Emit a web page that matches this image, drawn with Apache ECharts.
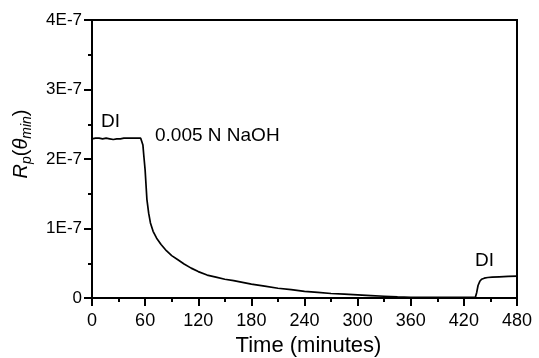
<!DOCTYPE html>
<html>
<head>
<meta charset="utf-8">
<script src="https://cdn.jsdelivr.net/npm/echarts@6/dist/echarts.min.js"></script>
<style>
  html, body {margin: 0; padding: 0; background: #fff;}
  #main {width: 539px; height: 358px;}
</style>
</head>
<body>
<div id="main"></div>
<script>
  // time in minutes, Rp in units of 1E-7
  const time = [0, 4, 8, 12, 16, 20, 24, 28, 32, 36, 40, 44, 48, 52, 55, 56.5, 57.5, 58.5, 60, 62, 64, 66, 69, 73, 78, 84, 90, 97, 104, 112, 120, 130, 140, 150, 160, 170, 180, 195, 210, 225, 240, 255, 270, 285, 300, 315, 330, 345, 360, 375, 390, 405, 420, 433, 434.5, 436, 438, 440, 443, 447, 452, 460, 470, 480];
  const rp = [2.29, 2.30, 2.30, 2.29, 2.30, 2.29, 2.28, 2.29, 2.29, 2.30, 2.30, 2.30, 2.30, 2.30, 2.30, 2.29, 2.2, 2.05, 1.84, 1.42, 1.22, 1.08, 0.96, 0.86, 0.77, 0.68, 0.61, 0.55, 0.49, 0.43, 0.38, 0.33, 0.30, 0.27, 0.25, 0.225, 0.20, 0.17, 0.14, 0.12, 0.095, 0.08, 0.065, 0.055, 0.045, 0.035, 0.025, 0.015, 0.01, 0.008, 0.01, 0.008, 0.01, 0.012, 0.08, 0.18, 0.24, 0.27, 0.285, 0.295, 0.30, 0.305, 0.31, 0.315];
  const xTicks = [0, 60, 120, 180, 240, 300, 360, 420, 480];
  const yTicks = [0, 1, 2, 3, 4];
  const notes = [
    {text: 'DI', x: 101, y: 121.5},
    {text: '0.005 N NaOH', x: 155, y: 135.5},
    {text: 'DI', x: 475, y: 260.5}
  ];

  const font = '"Liberation Sans", Arial, sans-serif';
  const chart = echarts.init(document.getElementById('main'));
  chart.setOption({
    animation: false,
    backgroundColor: '#fff',
    grid: {
      left: 92, right: 22, top: 20, bottom: 60,
      show: true, borderColor: '#000', borderWidth: 2,
      outerBoundsMode: 'none'
    },
    xAxis: {
      type: 'value',
      min: xTicks[0], max: xTicks[xTicks.length - 1], interval: 60,
      name: 'Time (minutes)',
      nameLocation: 'middle',
      nameGap: 36,
      nameTextStyle: {fontFamily: font, fontSize: 22, color: '#000', padding: [0, 0, 0, 8]},
      axisLine: {lineStyle: {color: '#000', width: 2}},
      axisTick: {inside: false, length: 8, lineStyle: {color: '#000', width: 2}},
      minorTick: {show: true, splitNumber: 2, length: 4, lineStyle: {color: '#000', width: 2}},
      axisLabel: {fontFamily: font, fontSize: 18, color: '#000', margin: 14},
      splitLine: {show: false}
    },
    yAxis: {
      type: 'value',
      min: yTicks[0], max: yTicks[yTicks.length - 1], interval: 1,
      name: '{i|R}{s|p}{n|(}{i|θ}{s|min}{n|)}',
      nameLocation: 'middle',
      nameGap: 58,
      nameTextStyle: {
        color: '#000',
        padding: [0, 0, 0, 30],
        rich: {
          i: {fontFamily: font, fontSize: 20, fontStyle: 'italic', lineHeight: 26, color: '#000'},
          n: {fontFamily: font, fontSize: 20, lineHeight: 26, color: '#000'},
          s: {fontFamily: font, fontSize: 14, fontStyle: 'italic', verticalAlign: 'bottom', color: '#000'}
        }
      },
      axisLine: {lineStyle: {color: '#000', width: 2}},
      axisTick: {inside: false, length: 8, lineStyle: {color: '#000', width: 2}},
      minorTick: {show: true, splitNumber: 2, length: 4, lineStyle: {color: '#000', width: 2}},
      axisLabel: {
        fontFamily: font, fontSize: 17, color: '#000', margin: 10,
        formatter: v => v === 0 ? '0' : v + 'E-7'
      },
      splitLine: {show: false}
    },
    graphic: notes.map(n => ({
      type: 'text',
      style: {
        text: n.text, x: n.x, y: n.y,
        font: '19px ' + font,
        fill: '#000',
        verticalAlign: 'middle'
      }
    })),
    series: [{
      type: 'line',
      data: time.map((t, i) => [t, rp[i]]),
      showSymbol: false,
      lineStyle: {color: '#000', width: 1.7},
      clip: true
    }]
  });
</script>
</body>
</html>
